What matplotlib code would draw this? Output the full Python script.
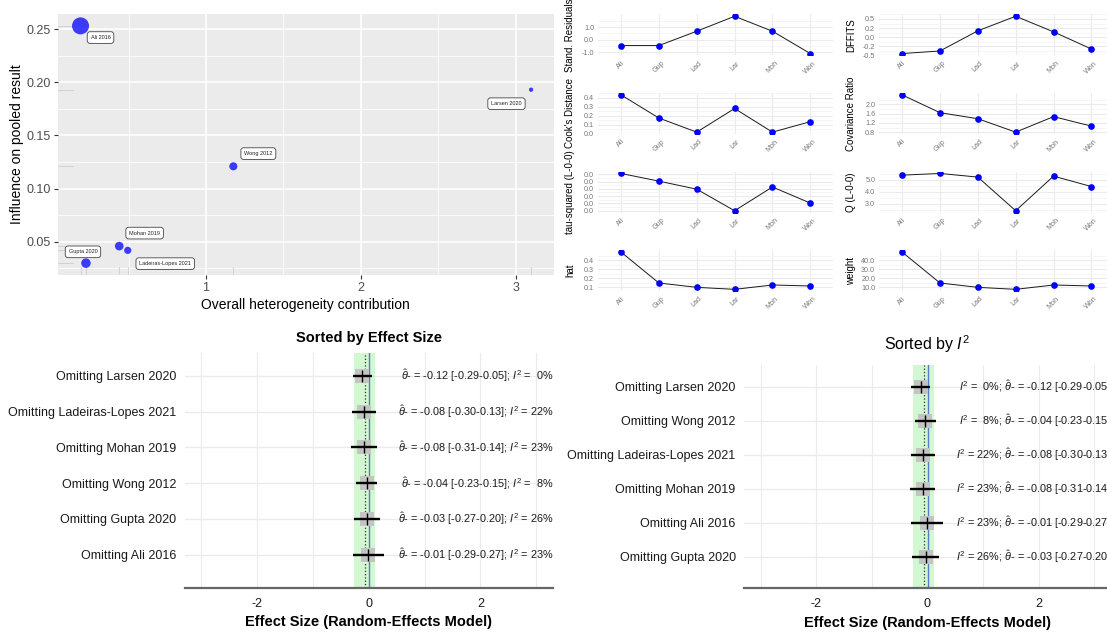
import numpy as np
import matplotlib
matplotlib.use("Agg")
import matplotlib.pyplot as plt
import matplotlib.transforms as mtransforms
from matplotlib.ticker import FormatStrFormatter

plt.rcParams['font.family'] = ['Liberation Sans', 'DejaVu Sans']
plt.rcParams['mathtext.fontset'] = 'custom'
plt.rcParams['mathtext.rm'] = 'Liberation Sans'
plt.rcParams['mathtext.it'] = 'Liberation Sans:italic'
plt.rcParams['mathtext.bf'] = 'Liberation Sans:bold'
plt.rcParams['axes.unicode_minus'] = False

W, H = 1107, 632

# ---- leave-one-out data --------------------------------------------------
studies = ["Ali 2016", "Gupta 2020", "Ladeiras-Lopes 2021", "Larsen 2020",
           "Mohan 2019", "Wong 2012"]
abbr = ["Ali", "Gup", "Lad", "Lar", "Moh", "Won"]

# Baujat plot
het_contrib = [0.19, 0.225, 0.495, 3.10, 0.44, 1.177]
infl_pooled = [0.253, 0.030, 0.042, 0.193, 0.046, 0.121]

# influence diagnostics
rstudent = [-0.48, -0.48, 0.67, 1.87, 0.67, -1.12]
dffits = [-0.45, -0.38, 0.175, 0.575, 0.147, -0.325]
cook_d = [0.43, 0.175, 0.02, 0.28, 0.02, 0.135]
cov_r = [2.41, 1.64, 1.38, 0.80, 1.47, 1.06]
tau2_del = [0.0102, 0.0081, 0.0059, 0.0, 0.0065, 0.0021]
qe_del = [5.38, 5.52, 5.22, 2.44, 5.30, 4.44]
hat = [0.489, 0.148, 0.100, 0.078, 0.126, 0.115]
weight = [48.9, 14.8, 10.0, 7.8, 12.6, 11.5]

# pooled estimate after omitting each study
loo_est = [-0.01, -0.03, -0.08, -0.12, -0.08, -0.04]
loo_lower = [-0.29, -0.27, -0.30, -0.29, -0.31, -0.23]
loo_upper = [0.27, 0.20, 0.13, 0.05, 0.14, 0.15]
loo_i2 = [23, 26, 22, 0, 23, 8]

pooled_est = -0.06
pooled_ci = [-0.26, 0.11]


def px_axes(fig, x0, y0, x1, y1):
    return fig.add_axes([x0 / W, 1 - y1 / H, (x1 - x0) / W, (y1 - y0) / H])


def expand(vals, f=0.05):
    lo, hi = min(vals), max(vals)
    d = (hi - lo) * f
    return lo - d, hi + d


fig = plt.figure(figsize=(W / 100, H / 100), dpi=100)

# ---- Baujat plot ----------------------------------------------------------
ax = px_axes(fig, 58, 14, 553.6, 275)
ax.set_facecolor('#EBEBEB')
ax.set_xlim(*expand(het_contrib))
ax.set_ylim(*expand(infl_pooled))
ax.set_xticks([1, 2, 3])
ax.set_xticks([0.5, 1.5, 2.5], minor=True)
ax.set_yticks([0.05, 0.10, 0.15, 0.20, 0.25])
ax.set_yticks([0.025, 0.075, 0.125, 0.175, 0.225], minor=True)
ax.yaxis.set_major_formatter(FormatStrFormatter('%.2f'))
ax.grid(which='major', color='white', lw=1.1)
ax.grid(which='minor', color='white', lw=0.55)
ax.set_axisbelow(True)
for s in ax.spines.values():
    s.set_visible(False)
ax.tick_params(which='major', length=3, width=0.8, color='#333333',
               labelsize=9, labelcolor='#4D4D4D', pad=2)
ax.tick_params(which='minor', length=0)
ax.set_xlabel("Overall heterogeneity contribution", fontsize=10, labelpad=3)
ax.set_ylabel("Influence on pooled result", fontsize=10, labelpad=2)

# rug marks along both axes
bx = mtransforms.blended_transform_factory(ax.transData, ax.transAxes)
by = mtransforms.blended_transform_factory(ax.transAxes, ax.transData)
for x, y in zip(het_contrib, infl_pooled):
    ax.plot([x, x], [0, 0.03], transform=bx, color='#D2D2D2', lw=0.7)
    ax.plot([0, 0.03], [y, y], transform=by, color='#D2D2D2', lw=0.7)

# point size from study weight (area palette)
w = np.array(weight)
diam_px = 4.3 + 12.7 * np.sqrt((w - w.min()) / (w.max() - w.min()))
ax.scatter(het_contrib, infl_pooled, s=(diam_px * 0.72) ** 2,
           color='#0000FF', alpha=0.75, edgecolors='none', zorder=3)

label_shift = {"Ali 2016": (20, 11.7), "Gupta 2020": (-3, -11.3),
               "Ladeiras-Lopes 2021": (37.5, 13.3), "Larsen 2020": (-24.6, 14),
               "Mohan 2019": (25.4, -13), "Wong 2012": (25, -12.7)}
for name, x, y in zip(studies, het_contrib, infl_pooled):
    dx, dy = label_shift[name]
    ax.annotate(name, (x, y), xytext=(dx * 0.72, -dy * 0.72),
                textcoords='offset points', ha='center', va='center',
                fontsize=4, color='#222222', zorder=4,
                bbox=dict(boxstyle='round,pad=0.6,rounding_size=0.5',
                          fc='white', ec='#444444', lw=0.6))

# ---- influence diagnostics panels ----------------------------------------
panels = [
    (rstudent, "Stand. Residuals", [-1.0, 0.0, 1.0], 0.5),
    (dffits, "DFFITS", [-0.5, -0.25, 0.0, 0.25, 0.5], 0.125),
    (cook_d, "Cook's Distance", [0.0, 0.1, 0.2, 0.3, 0.4], 0.05),
    (cov_r, "Covariance Ratio", [0.8, 1.2, 1.6, 2.0], 0.2),
    (tau2_del, "tau-squared (L-0-0)",
     [0.0, 0.002, 0.004, 0.006, 0.008, 0.010], 0.001),
    (qe_del, "Q (L-0-0)", [3.0, 4.0, 5.0], 0.5),
    (hat, "hat", [0.1, 0.2, 0.3, 0.4], 0.05),
    (weight, "weight", [10, 20, 30, 40], 5),
]
col_x = [598.3, 879.4]
panel_w = 234.7
panel_h = 41
xpos = np.arange(1, len(abbr) + 1)
for i, (vals, lab, yt, minor) in enumerate(panels):
    r, c = divmod(i, 2)
    top = 14.4 + 78.6 * r
    a = px_axes(fig, col_x[c], top, col_x[c] + panel_w, top + panel_h)
    a.plot(xpos, vals, color='#1A1A1A', lw=0.7, zorder=2)
    a.plot(xpos, vals, 'o', color='#0000FF', ms=4.8, mec='none', zorder=3)
    a.set_xlim(0.4, 6.6)
    lo, hi = expand(vals)
    a.set_xticks(xpos)
    a.set_xticklabels(abbr, rotation=45, ha='center', va='top')
    a.set_yticks(yt)
    a.set_yticks(np.arange(yt[0] - minor, hi, 2 * minor), minor=True)
    a.yaxis.set_major_formatter(FormatStrFormatter('%.1f'))
    a.set_ylim(lo, hi)
    a.grid(which='major', color='#EBEBEB', lw=0.8)
    a.grid(which='minor', axis='y', color='#F2F2F2', lw=0.5)
    a.set_axisbelow(True)
    for s in a.spines.values():
        s.set_visible(False)
    a.tick_params(which='both', length=0, labelsize=5.2,
                  labelcolor='#777777', pad=3)
    a.set_ylabel(lab, fontsize=7, color='black')
    a.yaxis.set_label_coords(-23 / panel_w, 0.5)


# ---- leave-one-out forest plots -------------------------------------------
def forest(box, order, text_fn, title, title_kw, title_pad):
    a = px_axes(fig, *box)
    n = len(order)
    ys = np.arange(n, 0, -1)
    a.set_xlim(-3.3, 3.3)
    a.set_ylim(0.07, n + 0.64)
    a.set_xticks([-2, 0, 2])
    a.set_xticks([-3, -1, 1, 3], minor=True)
    a.set_yticks(ys)
    a.set_yticklabels(["Omitting " + studies[k] for k in order])
    a.grid(which='both', axis='x', color='#EBEBEB', lw=0.8)
    a.grid(which='major', axis='y', color='#EBEBEB', lw=1.0)
    a.set_axisbelow(True)
    a.axvspan(pooled_ci[0], pooled_ci[1], color='#90EE90', alpha=0.4,
              lw=0, zorder=1)
    a.axvline(pooled_est, color='#2B2B2B', ls=':', lw=0.9, zorder=2)
    a.axvline(0, color='#5A78CC', lw=1.0, zorder=2)
    est = [loo_est[k] for k in order]
    lo = [loo_lower[k] for k in order]
    hi = [loo_upper[k] for k in order]
    a.scatter(est, ys, marker='s', s=100, color='#C4C4C4', lw=0, zorder=3)
    a.hlines(ys, lo, hi, color='black', lw=1.7, zorder=4)
    a.scatter(est, ys, marker='|', s=70, color='black', lw=1.0, zorder=5)
    tr = mtransforms.blended_transform_factory(a.transAxes, a.transData)
    for y, k in zip(ys, order):
        a.text(1.0, y, text_fn(k), transform=tr, ha='right', va='center',
               fontsize=7.8, color='#1A1A1A')
    for side in ['top', 'right', 'left']:
        a.spines[side].set_visible(False)
    a.spines['bottom'].set_color('#666666')
    a.spines['bottom'].set_linewidth(1.6)
    a.tick_params(axis='y', length=0, labelsize=9, labelcolor='#1A1A1A',
                  pad=6)
    a.tick_params(axis='x', which='both', length=0, labelsize=9,
                  labelcolor='#1A1A1A', pad=7)
    a.set_xlabel("Effect Size (Random-Effects Model)", fontsize=10.5,
                 fontweight='bold', labelpad=4)
    a.set_title(title, pad=title_pad, **title_kw)
    return a


def theta_txt(k):
    return (r"$\hat{\theta}$- = %.2f [%.2f-%.2f]"
            % (loo_est[k], loo_lower[k], loo_upper[k]))


def i2_txt(k):
    return r"$I^2$ = %2d%%" % loo_i2[k]


by_effect = sorted(range(len(studies)), key=lambda k: loo_est[k])
by_i2 = sorted(range(len(studies)), key=lambda k: (loo_i2[k], loo_est[k]))

forest((184.6, 353, 553, 588), by_effect,
       lambda k: theta_txt(k) + "; " + i2_txt(k),
       "Sorted by Effect Size", dict(fontsize=10.5, fontweight='bold'), 8)
forest((744, 365, 1111, 588.3), by_i2,
       lambda k: i2_txt(k) + "; " + theta_txt(k),
       r"Sorted by $I^2$", dict(fontsize=11.5), 11)

fig.savefig("out.png", dpi=100)
